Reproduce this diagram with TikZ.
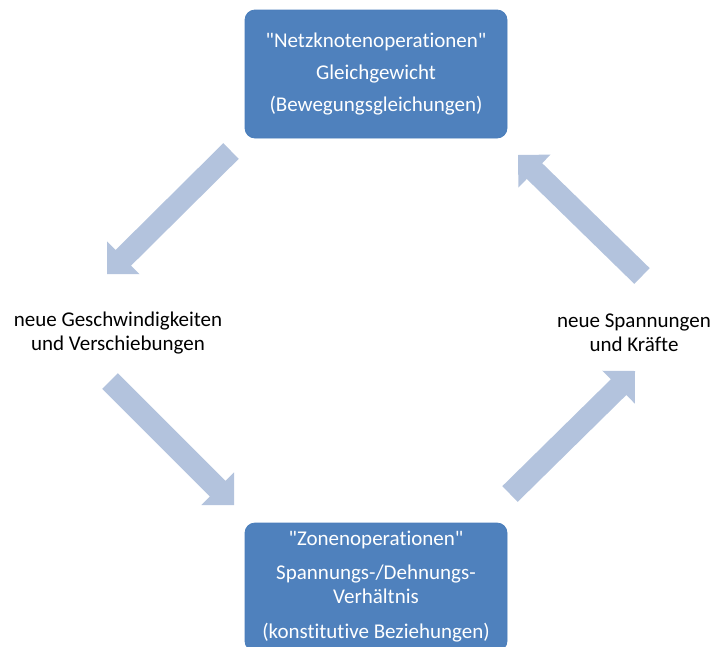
\documentclass[tikz,border=0pt]{standalone}
\usepackage{fontspec}
\setmainfont{Carlito}[Ligatures={TeXOff,NoCommon}]
\usetikzlibrary{calc}
\definecolor{boxblue}{HTML}{4F81BD}
\definecolor{boxline}{HTML}{4A7EBB}
\definecolor{arrowblue}{HTML}{B3C3DD}
\newcommand\blkarrow[2]{%
  \coordinate (hb) at ($(#2)!23pt!(#1)$);
  \fill[blk] ($(#1)!11pt!90:(#2)$) -- ($(hb)!11pt!-90:(#1)$) -- ($(hb)!23pt!-90:(#1)$) -- (#2)
    -- ($(hb)!23pt!90:(#1)$) -- ($(hb)!11pt!90:(#1)$) -- ($(#1)!11pt!-90:(#2)$) -- cycle;}
\begin{document}
\begin{tikzpicture}[x=1pt,y=-1pt,
  box/.style={draw=boxline, line width=0.8pt, fill=boxblue, rounded corners=10pt,
    minimum width=262pt, minimum height=128pt, text=white, align=center,
    font=\fontsize{21}{24}\selectfont, inner sep=0pt},
  lbl/.style={align=center, font=\fontsize{21}{24}\selectfont, text=black, inner sep=0pt},
  blk/.style={fill=arrowblue}]
\clip (0,0) rectangle (714,646);
\node[box] (top) at (376,74) {"Netzknotenoperationen"\\[8pt]Gleichgewicht\\[8pt](Bewegungsgleichungen)};
\node[box] (bot) at (376,587) {"Zonenoperationen"\\[10pt]Spannungs-/Dehnungs-\\Verhältnis\\[11pt](konstitutive Beziehungen)};
\node[lbl] (left) at (118,333) {neue Geschwindigkeiten\\und Verschiebungen};
\node[lbl] (right) at (634,333) {neue Spannungen\\und Kräfte};
\coordinate (t1) at (231,151); \coordinate (p1) at (107,274);
\coordinate (t2) at (110,381); \coordinate (p2) at (234,505);
\coordinate (t3) at (642,276); \coordinate (p3) at (518,155);
\coordinate (t4) at (510,494); \coordinate (p4) at (635,371);
\blkarrow{t1}{p1}
\blkarrow{t2}{p2}
\blkarrow{t3}{p3}
\blkarrow{t4}{p4}
\end{tikzpicture}
\end{document}
